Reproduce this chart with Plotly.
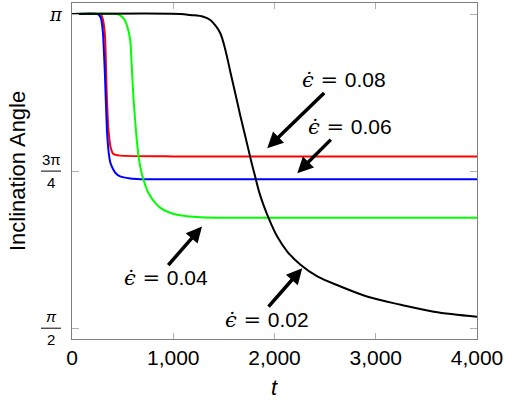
import numpy as np
import plotly.graph_objects as go

PI = np.pi

# ---- data ----
t_red = [0, 270, 294, 310, 327, 343, 360, 383, 409, 475, 1000, 4000]
ang_red = [3.1416, 3.1416, 3.1316, 3.1016, 3.0216, 2.7416, 2.5616, 2.4716, 2.4416, 2.4336, 2.4296, 2.4286]

t_blue = [0, 255, 285, 305, 325, 345, 362, 380, 405, 430, 475, 575, 740, 4000]
ang_blue = [3.1416, 3.1416, 3.1216, 3.0516, 2.8416, 2.5616, 2.4516, 2.3966, 2.3666, 2.3466, 2.3296, 2.3196, 2.3156, 2.3156]

t_green = [0, 440, 480, 520, 550, 575, 590, 607, 625, 640, 657, 685, 710, 750, 800, 870, 950, 1050, 1270, 1600, 4000]
ang_green = [3.1416, 3.1416, 3.1336, 3.1116, 3.0716, 3.0116, 2.8816, 2.7216, 2.6016, 2.5116, 2.4316,
             2.3516, 2.3066, 2.2516, 2.2116, 2.1736, 2.1516, 2.1366, 2.1256, 2.1226, 2.1226]

t_black = [0, 1069, 1168, 1297, 1366, 1416, 1465, 1515, 1564, 1614, 1663, 1713, 1762, 1812, 1851, 1891,
           1941, 2027, 2126, 2257, 2423, 2653, 2921, 3248, 3574, 4000]
ang_black = [3.1416, 3.1416, 3.1366, 3.1281, 3.1116, 3.0842, 3.0452, 2.9618, 2.8519, 2.7420, 2.6321, 2.5272,
             2.4223, 2.3224, 2.2475, 2.1876, 2.1226, 2.0292, 1.9542, 1.8878, 1.8294, 1.7794, 1.7280, 1.6880,
             1.6531, 1.6281]

x_ticks = [0, 1000, 2000, 3000, 4000]
y_ticks = [PI / 2, 3 * PI / 4, PI]
y_tick_num_map = {PI: "π", 3 * PI / 4: "3π", PI / 2: "π"}
y_tick_den_map = {PI: None, 3 * PI / 4: "4", PI / 2: "2"}

labels = ["0.08", "0.06", "0.04", "0.02"]
label_pos_t = [2683, 2743, 931, 1921]
label_pos_y = [2.812, 2.577, 1.823, 1.613]
arrow_tip_t = [1928, 2225, 1284, 2274]
arrow_tip_y = [2.471, 2.346, 2.079, 1.871]
arrow_tail_t = [2505, 2571, 938, 1928]
arrow_tail_y = [2.754, 2.521, 1.879, 1.671]

Y_MIN = PI / 2 - 0.054
Y_MAX = PI + 0.055

FONT = "Liberation Sans"

fig = go.Figure()
series = [
    (t_red, ang_red, "#ff0000", 0.5),
    (t_blue, ang_blue, "#0000ff", 0.5),
    (t_green, ang_green, "#00ff00", 0.6),
    (t_black, ang_black, "#000000", 1.0),
]
for tx, ay, col, sm in series:
    fig.add_trace(go.Scatter(x=tx, y=ay, mode="lines",
                             line=dict(color=col, width=2, shape="spline", smoothing=sm),
                             showlegend=False, hoverinfo="skip"))

annotations = []
shapes = []

# epsilon labels + arrows
for lab, lx, ly, tx, ty, ax, ay in zip(labels, label_pos_t, label_pos_y, arrow_tip_t, arrow_tip_y,
                                       arrow_tail_t, arrow_tail_y):
    txt = "<span style=\"font-family:'DejaVu Serif'\"><i>\u03f5\u0307</i> = </span>" + lab
    annotations.append(dict(x=lx, y=ly, xref="x", yref="y", text=txt, showarrow=False,
                            font=dict(family=FONT, size=21, color="black"),
                            xanchor="center", yanchor="middle"))
    annotations.append(dict(x=tx, y=ty, xref="x", yref="y", ax=ax, ay=ay, axref="x", ayref="y",
                            text="", showarrow=True, arrowhead=2, arrowsize=0.9, arrowwidth=3.5,
                            arrowcolor="black", standoff=0, startstandoff=0))

# y tick labels (fractions)
def ypaper(v):
    return (v - Y_MIN) / (Y_MAX - Y_MIN)

for v in y_ticks:
    num = y_tick_num_map[v]
    den = y_tick_den_map[v]
    if den is None:
        annotations.append(dict(x=0, y=v, xref="paper", yref="y", text="<i>" + num + "</i>",
                                showarrow=False, xanchor="center", yanchor="middle", xshift=-16,
                                font=dict(family="DejaVu Serif", size=18, color="black")))
    else:
        annotations.append(dict(x=0, y=v, xref="paper", yref="y", text=num if num != "π" else "<i>π</i>",
                                showarrow=False, xanchor="center", yanchor="bottom", xshift=-21, yshift=1,
                                font=dict(family=FONT, size=15, color="black")))
        annotations.append(dict(x=0, y=v, xref="paper", yref="y", text=den,
                                showarrow=False, xanchor="center", yanchor="top", xshift=-21, yshift=-1,
                                font=dict(family=FONT, size=15, color="black")))
        yp = ypaper(v)
        shapes.append(dict(type="line", xref="paper", yref="paper", x0=-31 / 404.7, x1=-11 / 404.7,
                           y0=yp, y1=yp, line=dict(color="black", width=1)))

# axis titles
annotations.append(dict(x=0, y=0.5, xref="paper", yref="paper", text="Inclination Angle",
                        textangle=-90, showarrow=False, xanchor="center", yanchor="middle", xshift=-55,
                        font=dict(family=FONT, size=22, color="black")))
annotations.append(dict(x=0.5, y=0, xref="paper", yref="paper", text="<i>t</i>",
                        showarrow=False, xanchor="center", yanchor="middle", yshift=-48,
                        font=dict(family=FONT, size=22, color="black")))

fig.update_xaxes(range=[0, 4000], tickvals=x_ticks, tickformat=",", ticks="inside", ticklen=6,
                 tickcolor="#b0b0b0", showline=True, linecolor="#808080", linewidth=1.3,
                 mirror="ticks", showgrid=False, zeroline=False,
                 tickfont=dict(family=FONT, size=21, color="black"))
fig.update_yaxes(range=[Y_MIN, Y_MAX], tickvals=y_ticks, showticklabels=False, ticks="inside",
                 ticklen=7, tickcolor="#b0b0b0", showline=True, linecolor="#808080", linewidth=1.3,
                 mirror="ticks", showgrid=False, zeroline=False)

fig.update_layout(width=514, height=403, margin=dict(l=72, r=37, t=3, b=64),
                  paper_bgcolor="white", plot_bgcolor="white",
                  annotations=annotations, shapes=shapes, showlegend=False)

fig.write_html("out.html")
